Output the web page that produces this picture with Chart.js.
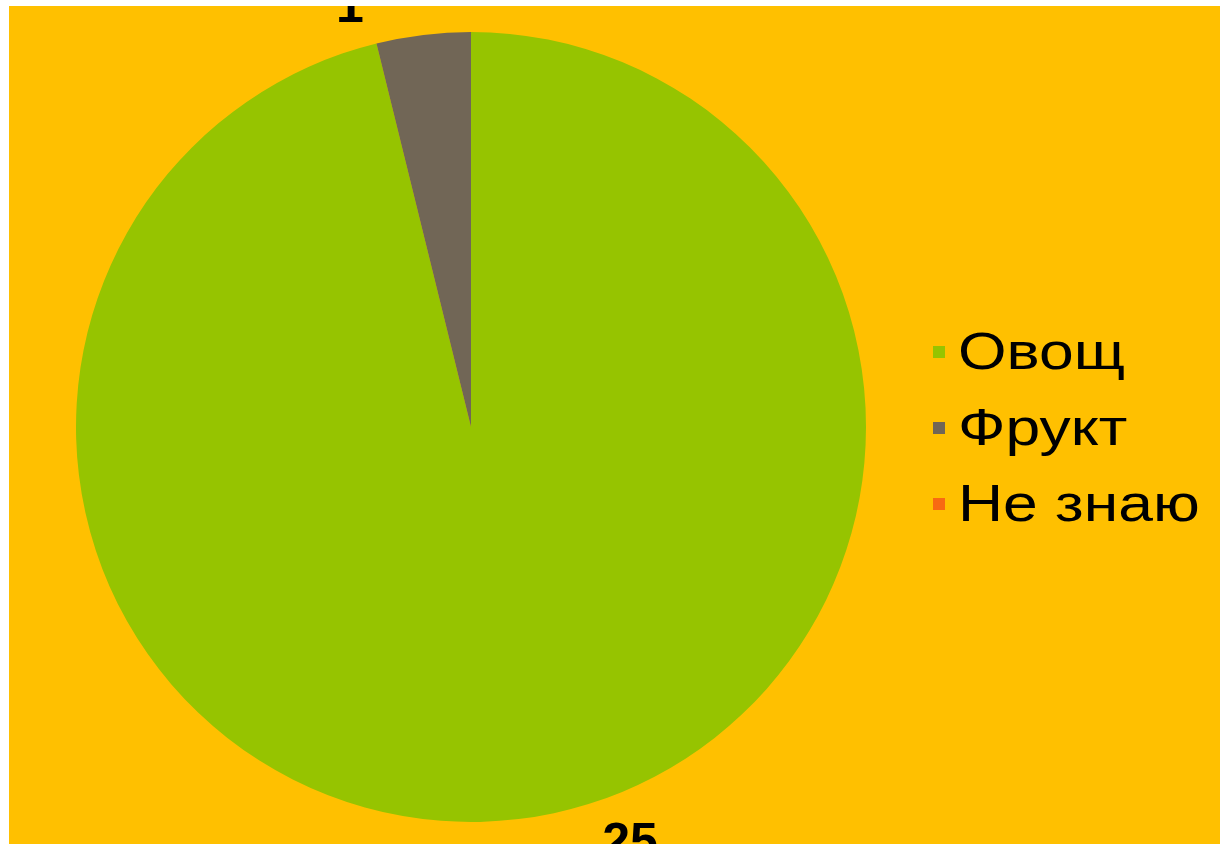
<!DOCTYPE html>
<html>
<head>
<meta charset="utf-8">
<script src="https://cdn.jsdelivr.net/npm/chart.js@4.4.1/dist/chart.umd.min.js"></script>
<style>
  html, body { margin: 0; padding: 0; background: #ffffff; width: 1220px; height: 846px; overflow: hidden; }
  #frame { position: absolute; left: 9px; top: 6px; width: 1211px; height: 838px; background: #FFC000; overflow: hidden; }
  canvas { display: block; }
</style>
</head>
<body>
<div id="frame"><canvas id="c" width="1211" height="838"></canvas></div>
<script>
const categories = ["Овощ", "Фрукт", "Не знаю"];
const values = [25, 1, 0];
const sliceColors = ["#96C400", "#716656", "#F86A12"];
const valueLabels = ["25", "1", "0"];

const labelPlugin = {
  id: 'labelsAndLegend',
  afterDraw(chart) {
    const ctx = chart.ctx;
    const meta = chart.getDatasetMeta(0);
    ctx.save();
    // data labels (only non-zero)
    ctx.fillStyle = '#000000';
    ctx.font = 'bold 50px "Liberation Sans", Arial, sans-serif';
    ctx.textAlign = 'center';
    ctx.textBaseline = 'alphabetic';
    const offsets = [[159, 431], [-121, -405]];
    meta.data.forEach((arc, i) => {
      if (!values[i]) return;
      const p = arc.getProps(['x', 'y', 'outerRadius'], true);
      const off = offsets[i] || [0, 0];
      ctx.fillText(valueLabels[i], p.x + off[0], p.y + off[1]);
    });
    ctx.restore();
    // legend
    ctx.save();
    const lx = 924, ly0 = 363, step = 76, sx = 1.2;
    ctx.font = '52px "Liberation Sans", Arial, sans-serif';
    ctx.textAlign = 'left';
    ctx.textBaseline = 'alphabetic';
    categories.forEach((name, i) => {
      const y = ly0 + i * step;
      ctx.fillStyle = sliceColors[i];
      ctx.fillRect(lx, y - 23, 12, 12);
      ctx.fillStyle = '#000000';
      ctx.save();
      ctx.translate(lx + 25, y);
      ctx.scale(sx, 1);
      ctx.fillText(name, 0, 0);
      ctx.restore();
    });
    ctx.restore();
  }
};

new Chart(document.getElementById('c'), {
  type: 'pie',
  data: {
    labels: categories,
    datasets: [{
      data: values,
      backgroundColor: sliceColors,
      borderWidth: 0,
      hoverOffset: 0
    }]
  },
  options: {
    responsive: false,
    animation: false,
    layout: { padding: { left: 67, right: 354, top: 26, bottom: 22 } },
    plugins: {
      legend: { display: false },
      tooltip: { enabled: false }
    }
  },
  plugins: [labelPlugin]
});
</script>
</body>
</html>
